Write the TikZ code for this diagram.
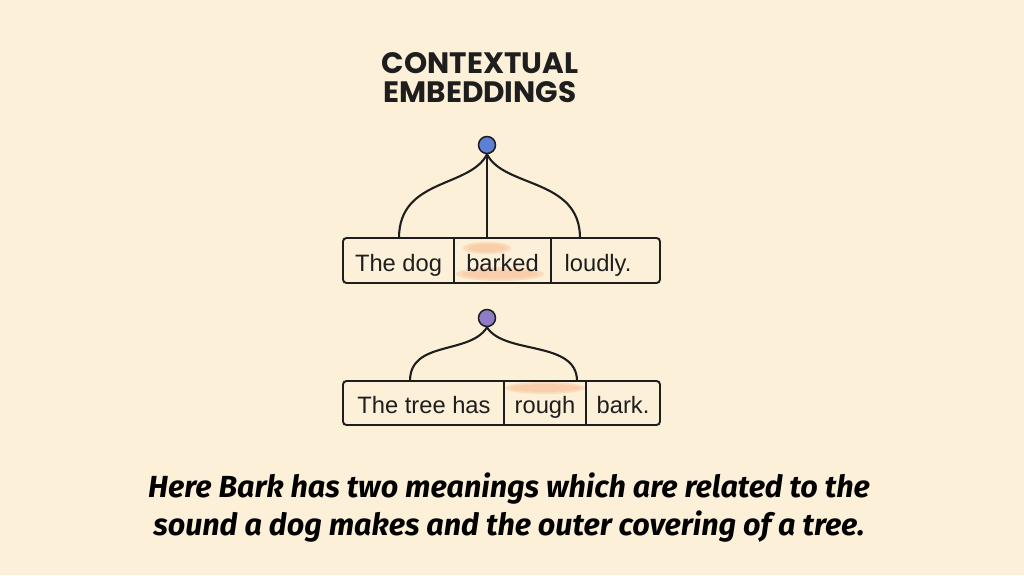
\documentclass[tikz,border=0pt]{standalone}
\usepackage{fontspec}
\setmainfont{Liberation Sans}
\newfontfamily\titlefont{Poppins Bold}
\newfontfamily\notefont{Fira Sans}
\definecolor{bg}{HTML}{FDF0D8}
\definecolor{ink}{HTML}{1E1E1E}
\definecolor{dotblue}{HTML}{5E7FD6}
\definecolor{dotpurple}{HTML}{8F7CC8}
\definecolor{hl}{HTML}{F7B98A}
\begin{document}
\begin{tikzpicture}[x=1pt,y=-1pt,
  wordbox/.style={draw=ink,line width=1.9pt,rounded corners=3.5pt},
  divider/.style={draw=ink,line width=1.9pt},
  link/.style={draw=ink,line width=2.1pt},
  word/.style={font=\fontsize{23.7}{26}\selectfont,text=ink,anchor=base},
  dot/.style={circle,draw=ink,line width=1.5pt,minimum size=17pt,inner sep=0pt},
  hlmark/.style={fill=hl,opacity=0.35}]
\fill[bg] (0,0) rectangle (1024,575);
\useasboundingbox (0,0) rectangle (1024,575);
% title
\node[font=\titlefont\fontsize{29.5}{29}\selectfont,text=ink,align=center] (title) at (480,78) {CONTEXTUAL\\EMBEDDINGS};
% first sentence
\fill[hlmark] (487,248) ellipse (24pt and 6pt);
\fill[hlmark] (487,248) ellipse (19pt and 4pt);
\fill[hlmark] (500,274) ellipse (44pt and 7pt);
\fill[hlmark] (500,274) ellipse (38pt and 4.5pt);
\draw[wordbox] (343,238) rectangle (660,283);
\coordinate (d1) at (454,238); \coordinate (d1b) at (454,283);
\coordinate (d2) at (551,238); \coordinate (d2b) at (551,283);
\draw[divider] (d1) -- (d1b);
\draw[divider] (d2) -- (d2b);
\node[word] (w1) at (398.5,271) {The dog};
\node[word] (w2) at (502.5,271) {barked};
\node[word] (w3) at (598,271) {loudly.};
\node[dot,fill=dotblue] (top) at (487,145) {};
\coordinate (t1) at (399,238);
\coordinate (t2) at (487,238);
\coordinate (t3) at (580,238);
\draw[link] (top.south) .. controls (470,188) and (399,178) .. (t1);
\draw[link] (top.south) -- (t2);
\draw[link] (top.south) .. controls (504,188) and (580,178) .. (t3);
% second sentence
\fill[hlmark] (545,388) ellipse (40pt and 6pt);
\fill[hlmark] (545,388) ellipse (35pt and 4pt);
\draw[wordbox] (343,381) rectangle (660,425);
\coordinate (e1) at (504,381); \coordinate (e1b) at (504,425);
\coordinate (e2) at (586,381); \coordinate (e2b) at (586,425);
\draw[divider] (e1) -- (e1b);
\draw[divider] (e2) -- (e2b);
\node[word] (v1) at (424,413) {The tree has};
\node[word] (v2) at (545,413) {rough};
\node[word] (v3) at (623,413) {bark.};
\node[dot,fill=dotpurple] (low) at (487,318) {};
\coordinate (u1) at (410,381);
\coordinate (u2) at (577,381);
\draw[link] (low.south) .. controls (470,355) and (410,340) .. (u1);
\draw[link] (low.south) .. controls (504,355) and (577,340) .. (u2);
% note
\node[font=\notefont\bfseries\itshape\fontsize{30.5}{38}\selectfont,text=black,align=center] (note) at (509,508) {Here Bark has two meanings which are related to the\\sound a dog makes and the outer covering of a tree.};
\end{tikzpicture}
\end{document}
